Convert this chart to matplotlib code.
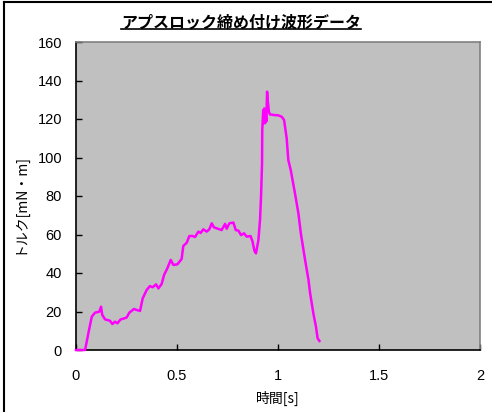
import matplotlib
matplotlib.use("Agg")
import matplotlib.pyplot as plt
from matplotlib.lines import Line2D

plt.rcParams['font.family'] = ['Noto Sans CJK JP', 'DejaVu Sans']

title = "アプスロック締め付け波形データ"
xlabel = "時間[s]"
ylabel = "トルク[mN・m]"
xticks = [0, 0.5, 1, 1.5, 2]
xticklabels = ["0", "0.5", "1", "1.5", "2"]
yticks = [0, 20, 40, 60, 80, 100, 120, 140, 160]

time_s = [0.000, 0.045, 0.061, 0.078, 0.094, 0.115, 0.124, 0.130, 0.144, 0.168,
          0.180, 0.193, 0.205, 0.221, 0.238, 0.251, 0.264, 0.287, 0.300, 0.317,
          0.330, 0.350, 0.366, 0.380, 0.396, 0.408, 0.424, 0.436, 0.452, 0.469,
          0.482, 0.502, 0.523, 0.531, 0.548, 0.561, 0.577, 0.589, 0.606, 0.617,
          0.630, 0.647, 0.660, 0.672, 0.683, 0.705, 0.721, 0.738, 0.746, 0.759,
          0.779, 0.791, 0.804, 0.817, 0.832, 0.845, 0.864, 0.874, 0.883, 0.891,
          0.903, 0.911, 0.916, 0.921, 0.922, 0.927, 0.929, 0.932, 0.936, 0.939,
          0.942, 0.946, 0.949, 0.955, 0.960, 0.977, 1.001, 1.018, 1.030, 1.043,
          1.051, 1.063, 1.084, 1.101, 1.113, 1.134, 1.151, 1.159, 1.175, 1.188,
          1.196, 1.205]
torque = [0.0, 0.0, 8.6, 17.3, 19.4, 19.9, 22.5, 18.2, 15.9, 15.2,
          13.5, 14.7, 13.9, 15.9, 16.4, 16.9, 19.4, 21.3, 20.8, 20.3,
          26.8, 31.2, 33.2, 32.6, 34.1, 32.0, 34.3, 39.0, 42.4, 46.8,
          44.2, 44.5, 47.3, 54.0, 55.7, 59.2, 59.2, 58.7, 61.5, 60.8,
          62.7, 61.5, 62.7, 65.8, 63.7, 62.9, 62.3, 65.5, 63.0, 65.8,
          66.2, 62.3, 62.0, 59.7, 60.6, 58.9, 59.2, 56.3, 51.6, 50.2,
          57.1, 67.5, 79.7, 97.0, 114.3, 124.7, 117.8, 125.5, 117.8, 124.0,
          118.7, 134.2, 129.9, 123.8, 122.4, 122.1, 121.9, 121.2, 119.5, 110.0,
          98.7, 93.5, 81.4, 71.0, 60.6, 46.8, 36.4, 29.5, 19.0, 12.1,
          6.1, 4.7]

W, H = 492, 412
fig = plt.figure(figsize=(W / 100, H / 100), dpi=100)
fig.patch.set_facecolor('white')

ax = fig.add_axes([76 / W, 1 - 350 / H, (480 - 76) / W, (350 - 42) / H])
ax.set_facecolor('#C0C0C0')
ax.plot(time_s, torque, color='#FF00FF', linewidth=1.8, solid_joinstyle='round',
        zorder=3, clip_on=False)
ax.set_xlim(0, 2)
ax.set_ylim(0, 160)
ax.set_xticks(xticks)
ax.set_xticklabels(xticklabels)
ax.set_yticks(yticks)
for s in ax.spines.values():
    s.set_color('#808080')
    s.set_linewidth(1.2)
    s.set_zorder(2)
ax.spines['left'].set_color('black')
ax.spines['bottom'].set_color('black')
ax.tick_params(direction='in', length=4, width=1, colors='black', labelsize=10.5)
ax.tick_params(axis='y', pad=10)
ax.tick_params(axis='x', pad=14)
for lab in ax.get_xticklabels() + ax.get_yticklabels():
    lab.set_fontfamily(['Liberation Sans', 'DejaVu Sans'])

fig.text(278 / W, 1 - 398 / H, xlabel, ha='center', va='center', fontsize=10)
fig.text(19 / W, 1 - 203 / H, ylabel, ha='center', va='center', fontsize=10,
         rotation=90)

t = fig.text(241 / W, 1 - 22 / H, title, ha='center', va='center', fontsize=11.5,
             fontweight='bold')
fig.canvas.draw()
bb = t.get_window_extent(renderer=fig.canvas.get_renderer())
uy = (bb.y0 + 1.5) / H
fig.add_artist(Line2D([bb.x0 / W, bb.x1 / W], [uy, uy], color='black',
                      linewidth=1.2, transform=fig.transFigure))

# chart outer border (top and left visible)
fig.add_artist(Line2D([3.5 / W, 3.5 / W], [0, 1 - 2 / H], color='black',
                      linewidth=1.5, transform=fig.transFigure))
fig.add_artist(Line2D([3.5 / W, 1], [1 - 2 / H, 1 - 2 / H], color='black',
                      linewidth=1.5, transform=fig.transFigure))

fig.savefig('out.png', dpi=100)
